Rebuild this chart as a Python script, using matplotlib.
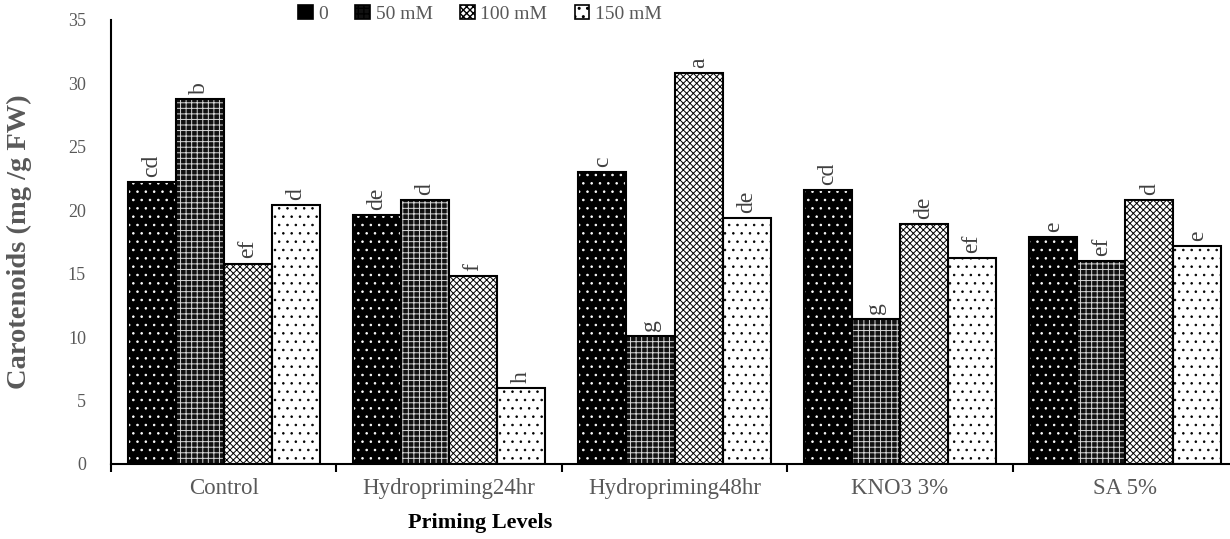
import matplotlib
matplotlib.use("Agg")
import matplotlib.pyplot as plt
import numpy as np
from matplotlib.patches import Patch

plt.rcParams['font.family'] = ['Liberation Serif', 'DejaVu Serif']

categories = ["Control", "Hydropriming24hr", "Hydropriming48hr", "KNO3 3%", "SA 5%"]
series_names = ["0", "50 mM", "100 mM", "150 mM"]
vals_0 = [22.2, 19.6, 23.0, 21.6, 17.9]
vals_50 = [28.8, 20.8, 10.1, 11.4, 16.0]
vals_100 = [15.8, 14.8, 30.8, 18.9, 20.8]
vals_150 = [20.4, 6.0, 19.4, 16.2, 17.2]
letters_0 = ["cd", "de", "c", "cd", "e"]
letters_50 = ["b", "d", "g", "g", "ef"]
letters_100 = ["ef", "f", "a", "de", "d"]
letters_150 = ["d", "h", "de", "ef", "e"]

values = [vals_0, vals_50, vals_100, vals_150]
letters = [letters_0, letters_50, letters_100, letters_150]

styles = [
    dict(face="black", hatch="..", hcolor="white", hlw=0.6),
    dict(face="#111111", hatch="+++", hcolor="#d8d8d8", hlw=0.7),
    dict(face="white", hatch="xxxxx", hcolor="black", hlw=0.7),
    dict(face="white", hatch="..", hcolor="black", hlw=0.6),
]

fig = plt.figure(figsize=(12.3, 5.39), dpi=100)
ax = fig.add_axes([111/1230, 75/539, 1127/1230, 444/539])

x = np.arange(len(categories))
bw = 0.2133
for i, (v, st) in enumerate(zip(values, styles)):
    plt.rcParams['hatch.linewidth'] = st["hlw"]
    pos = x + (i - 1.5) * bw
    ax.bar(pos, v, width=bw, color=st["face"], edgecolor=st["hcolor"],
           hatch=st["hatch"], linewidth=0, zorder=2)
    ax.bar(pos, v, width=bw, fill=False, edgecolor="black", linewidth=1.5, zorder=3)
    for xp, yv, lt in zip(pos, v, letters[i]):
        ax.text(xp, yv + 0.4, lt, rotation=90, ha="center", va="bottom",
                fontsize=17, color="#404040")

ax.set_xlim(-0.5, 4.5)
ax.set_ylim(0, 35)
ax.set_yticks(np.arange(0, 36, 5))
ax.tick_params(axis="y", length=0, pad=18, labelsize=13, labelcolor="#595959")

ax.set_xticks(np.arange(-0.5, 5.0, 1.0))
ax.set_xticklabels([])
ax.tick_params(axis="x", which="major", direction="out", length=6, width=1.5)
ax.set_xticks(x, minor=True)
ax.set_xticklabels(categories, minor=True)
ax.tick_params(axis="x", which="minor", length=0, pad=10, labelsize=16.5, labelcolor="#595959")

for s in ["top", "right"]:
    ax.spines[s].set_visible(False)
for s in ["left", "bottom"]:
    ax.spines[s].set_linewidth(1.5)

ax.set_ylabel("Carotenoids (mg /g FW)", fontsize=20.5, fontweight="bold", color="#595959")
ax.yaxis.set_label_coords(-0.070, 0.5)
ax.set_xlabel("Priming Levels", fontsize=16, fontweight="bold", color="black", va="center")
ax.xaxis.set_label_coords((480 - 111) / 1127, (464 - 523) / 444)

plt.rcParams['hatch.linewidth'] = 1.0
handles = []
for st, name in zip(styles, series_names):
    handles.append(Patch(facecolor=st["face"], edgecolor="black", hatch=st["hatch"],
                         linewidth=1.2, label=name))
leg = fig.legend(handles=handles, loc="center", bbox_to_anchor=(480/1230, 1 - 14/539),
                 ncol=4, frameon=False, fontsize=14, handlelength=0.75, handleheight=0.75,
                 handletextpad=0.3, columnspacing=1.4, labelcolor="#595959")

fig.savefig("out.png", dpi=100)
